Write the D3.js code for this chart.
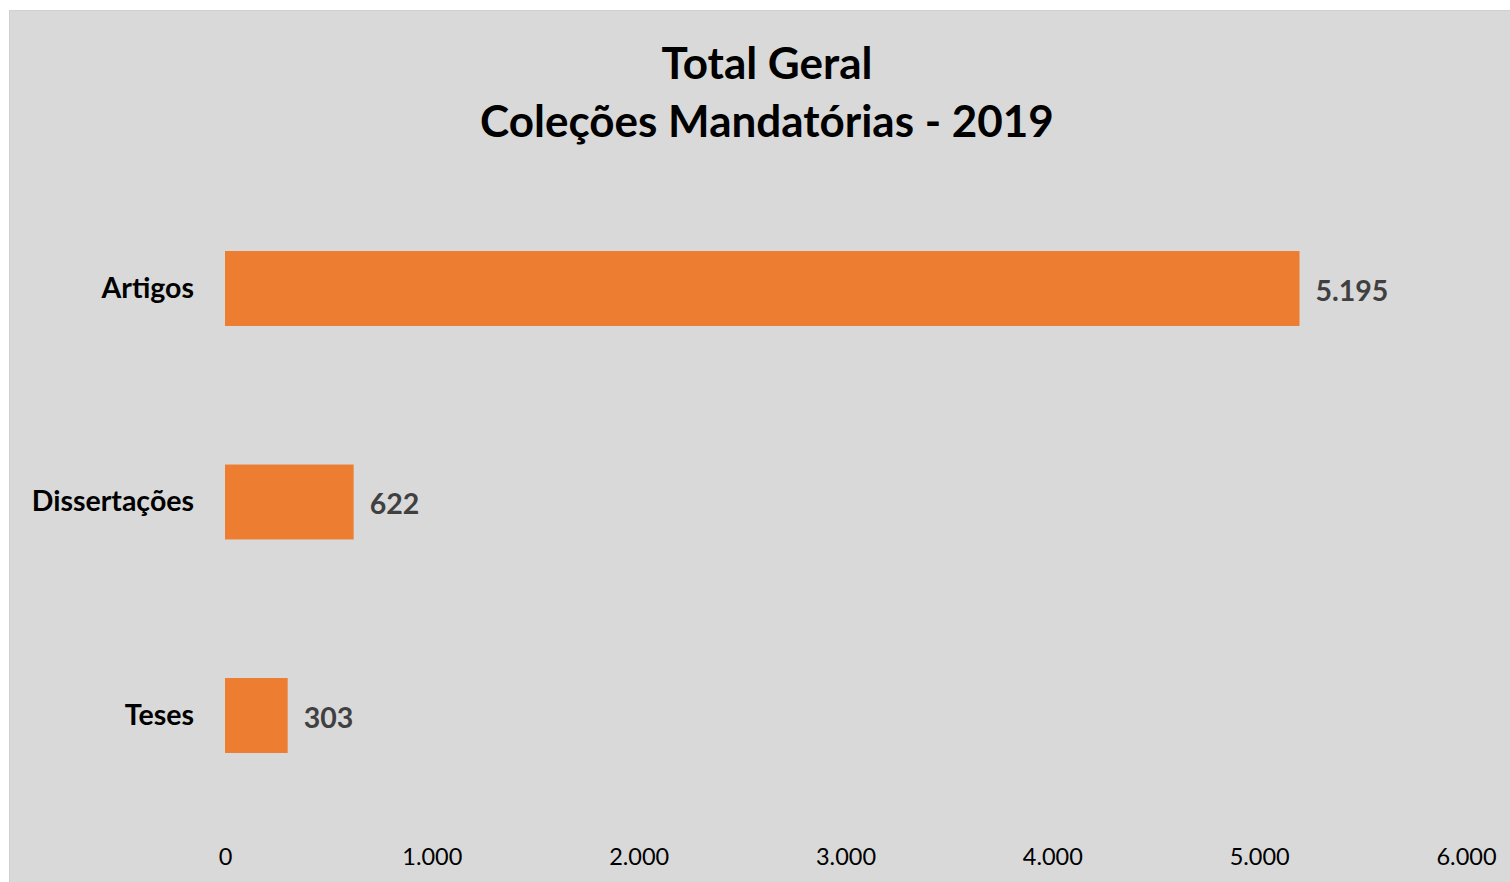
<!DOCTYPE html>
<html>
<head>
<meta charset="utf-8">
<script src="https://cdn.jsdelivr.net/npm/d3@7.9.0/dist/d3.min.js"></script>
<style>
  body { margin: 0; background: #fff; }
  svg { display: block; }
  text { font-family: Lato, "Open Sans", sans-serif; }
</style>
</head>
<body>
<svg id="chart" width="1510" height="882"></svg>
<script>
const categories = ['Artigos', 'Dissertações', 'Teses'];
const values = [5195, 622, 303];
const tickValues = [0, 1000, 2000, 3000, 4000, 5000, 6000];
const titleLines = ['Total Geral', 'Coleções Mandatórias - 2019'];

const svg = d3.select('#chart');

// chart area background
svg.append('rect')
    .attr('x', 9.5).attr('y', 10.5)
    .attr('width', 1510).attr('height', 882)
    .attr('fill', '#d9d9d9')
    .attr('stroke', '#d0d0d0');

const x = d3.scaleLinear().domain([0, 6000]).range([225, 1466]);
const y = d3.scaleBand()
    .domain(categories)
    .range([181.75, 822.25])
    .paddingInner(0.649)
    .paddingOuter(0.3245);

// title
svg.append('text')
    .attr('text-anchor', 'middle')
    .attr('font-weight', 'bold')
    .attr('font-size', 44)
    .selectAll('tspan')
    .data(titleLines)
    .join('tspan')
    .attr('x', 767)
    .attr('y', (d, i) => 79 + i * 58)
    .text(d => d);

// bars
svg.selectAll('rect.bar')
    .data(values)
    .join('rect')
    .attr('class', 'bar')
    .attr('x', x(0))
    .attr('y', (d, i) => y(categories[i]))
    .attr('width', d => x(d) - x(0))
    .attr('height', y.bandwidth())
    .attr('fill', '#ed7d31');

// value labels
const fmt = d3.formatLocale({ decimal: ',', thousands: '.', grouping: [3], currency: ['', ''] }).format(',d');
svg.selectAll('text.val')
    .data(values)
    .join('text')
    .attr('class', 'val')
    .attr('x', d => x(d) + 16)
    .attr('y', (d, i) => y(categories[i]) + y.bandwidth() / 2 + 2)
    .attr('dy', '0.36em')
    .attr('font-size', 28.5)
    .attr('font-weight', 'bold')
    .attr('fill', '#404040')
    .text(d => fmt(d));

// category axis
const yAxis = svg.append('g')
    .attr('transform', `translate(${x(0)},0)`)
    .call(d3.axisLeft(y).tickSize(0).tickPadding(31));
yAxis.select('.domain').remove();
yAxis.selectAll('text')
    .attr('font-family', 'Lato, sans-serif')
    .attr('font-size', 28.5)
    .attr('font-weight', 'bold')
    .attr('fill', '#000');

// value axis
const xAxis = svg.append('g')
    .attr('transform', 'translate(0,848)')
    .call(d3.axisBottom(x).tickValues(tickValues).tickFormat(fmt).tickSize(0).tickPadding(0));
xAxis.select('.domain').remove();
xAxis.selectAll('text')
    .attr('font-family', 'Lato, sans-serif')
    .attr('font-size', 23.5)
    .attr('fill', '#000');
</script>
</body>
</html>
